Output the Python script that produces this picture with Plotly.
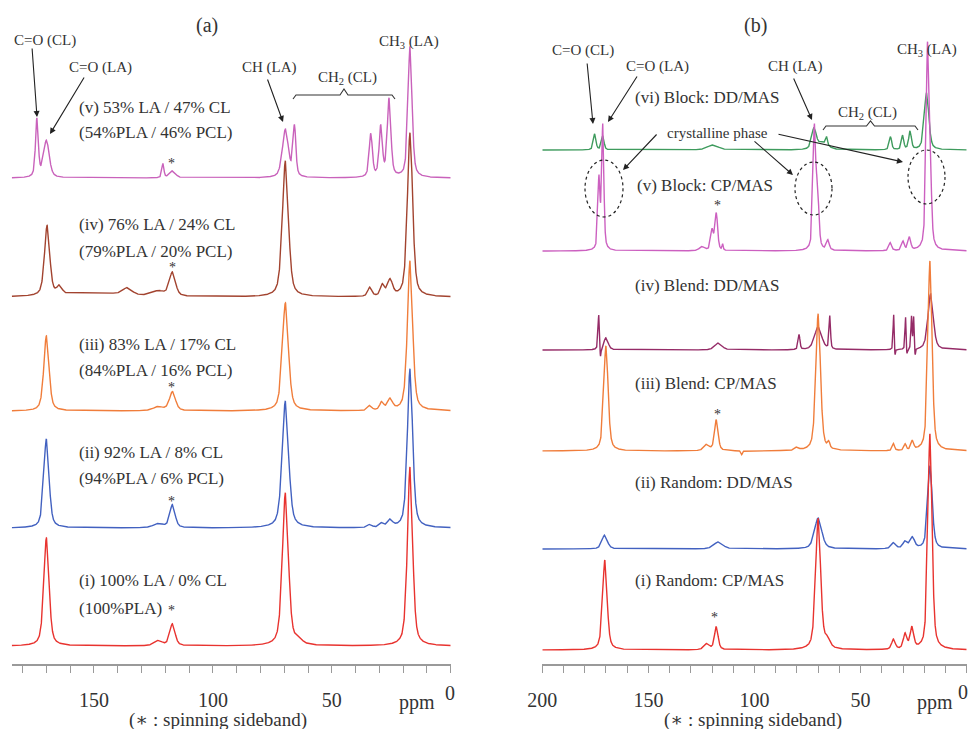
import numpy as np
import plotly.graph_objects as go

W, H = 971, 729

# ---------------- data: peak tables ----------------
# each spectrum: peak centres (ppm), heights (plot units above its baseline), FWHM (ppm)
# Panel (a) : copolymers CP/MAS
a_names = ["(v)", "(iv)", "(iii)", "(ii)", "(i)"]
a_offsets = [486, 367, 253, 136, 18]   # baseline level of each trace (y units)
a_colors = ["#c962bb", "#a2432f", "#f07d3b", "#4261c0", "#e8332f"]
a_centers = [
    [174.0, 170.0, 121.0, 117.0, 69.5, 65.7, 33.6, 29.4, 25.9, 17.1],
    [169.7, 164.5, 150.0, 136.0, 123.0, 117.0, 69.5, 34.0, 28.7, 25.5, 17.1],
    [170.0, 123.0, 117.0, 69.5, 34.0, 29.0, 25.5, 17.1],
    [170.0, 123.0, 117.0, 69.5, 34.0, 29.0, 25.5, 17.1],
    [170.0, 123.0, 117.0, 69.5, 64.0, 17.1],
]
a_heights = [
    [58, 37, 14, 7, 48, 50, 43, 50, 78, 131],
    [70, 8, 4, 7, 5, 24, 136, 9, 11, 16, 164],
    [75, 4, 19, 108, 5, 8, 11, 150],
    [89, 4, 23, 127, 3, 4, 7, 159],
    [108, 5, 22, 153, 4, 179],
]
a_widths = [
    [1.4, 2.8, 1.0, 3.0, 3.0, 1.4, 1.6, 1.6, 1.8, 2.0],
    [2.6, 2.5, 30.0, 4.5, 6.0, 3.0, 3.0, 2.0, 2.0, 2.5, 2.6],
    [2.6, 5.0, 3.0, 3.0, 2.0, 2.0, 2.5, 2.6],
    [2.6, 5.0, 2.6, 3.2, 2.0, 2.0, 2.5, 2.6],
    [2.6, 4.0, 2.6, 3.0, 4.0, 2.6],
]

# Panel (b) : block / blend / random, CP/MAS and DD/MAS
b_names = ["(vi)", "(v)", "(iv)", "(iii)", "(ii)", "(i)"]
b_offsets = [514, 413, 314, 213, 115, 14]
b_colors = ["#3e9b5d", "#cc60c0", "#952b67", "#f07d3b", "#4261c0", "#e8332f"]
b_centers = [
    [175.3, 171.5, 119.6, 72.0, 68.0, 66.0, 35.9, 30.2, 26.7, 18.9],
    [173.3, 171.5, 124.7, 120.0, 118.0, 115.0, 71.8, 70.3, 65.4, 36.0, 30.0, 27.0, 18.5, 17.3],
    [173.4, 172.6, 170.0, 117.0, 79.0, 70.0, 64.5, 34.4, 33.8, 28.8, 28.2, 26.0, 25.0, 24.3, 17.0],
    [170.0, 122.6, 118.0, 106.0, 80.0, 70.0, 65.0, 34.5, 29.0, 25.6, 17.3],
    [170.6, 117.0, 70.0, 34.5, 29.0, 25.6, 17.3],
    [170.5, 122.5, 118.0, 70.0, 65.6, 34.5, 29.0, 25.8, 17.3],
]
b_heights = [
    [16, 14, 5, 20, 7, 8, 13, 14, 18, 57],
    [70, 124, 4, 20, 37, 6, 120, 55, 10, 8, 9, 13, 190, 80],
    [35, -12, 12, 7, 15, 23, 33, 36, -9, 33, -8, 32, 32, -9, 56],
    [105, 6, 31, -4, 3, 137, 6, 7, 6, 9, 190],
    [14, 7, 31, 6, 7, 11, 83],
    [90, 6, 23, 131, 8, 10, 15, 21, 216],
]
b_widths = [
    [1.4, 1.4, 6.0, 2.5, 6.0, 1.0, 1.3, 1.3, 1.5, 2.5],
    [1.2, 1.2, 3.0, 1.5, 1.5, 0.6, 1.5, 1.5, 1.5, 1.5, 1.5, 1.5, 1.6, 1.5],
    [0.8, 0.6, 2.5, 4.0, 1.0, 4.0, 0.8, 0.6, 0.6, 0.6, 0.6, 0.6, 0.6, 0.6, 3.0],
    [2.4, 3.0, 2.0, 0.8, 2.0, 2.6, 1.2, 1.2, 1.2, 1.5, 2.3],
    [3.0, 5.0, 4.0, 2.5, 2.5, 2.5, 2.5],
    [2.5, 3.0, 2.0, 2.8, 3.0, 2.0, 2.0, 2.0, 2.3],
]

a_tickvals = [150, 100, 50]
a_ticktext = ["150", "100", "50"]
b_tickvals = [200, 150, 100, 50]
b_ticktext = ["200", "150", "100", "50"]


def line_shape(x, centers, heights, widths):
    y = np.zeros_like(x)
    for c, h, w in zip(centers, heights, widths):
        d = (x - c) / w
        y += h * (0.5 * np.exp(-4 * np.log(2) * d * d) + 0.5 / (1 + 4 * d * d))
    return y


fig = go.Figure()

xa = np.arange(0, 184.6, 0.04)
for nm, off, col, c, h, w in zip(a_names, a_offsets, a_colors, a_centers, a_heights, a_widths):
    fig.add_trace(go.Scatter(x=xa, y=off + line_shape(xa, c, h, w), mode="lines",
                             line=dict(color=col, width=1.4), name=nm,
                             xaxis="x", yaxis="y", hoverinfo="skip"))

xb = np.arange(0, 200.01, 0.04)
for nm, off, col, c, h, w in zip(b_names, b_offsets, b_colors, b_centers, b_heights, b_widths):
    fig.add_trace(go.Scatter(x=xb, y=off + line_shape(xb, c, h, w), mode="lines",
                             line=dict(color=col, width=1.4), name=nm,
                             xaxis="x2", yaxis="y2", hoverinfo="skip"))

axis_common = dict(showline=True, linecolor="#9a9a9a", linewidth=1.5, ticks="outside",
                   ticklen=7, tickcolor="#9a9a9a", tickwidth=1, showgrid=False, zeroline=False,
                   automargin=False,
                   minor=dict(ticks="outside", ticklen=7, tickcolor="#9a9a9a", tickwidth=1,
                              dtick=10, tick0=0, showgrid=False),
                   tickfont=dict(size=20, color="#333"), ticklabelstandoff=10, fixedrange=True)

fig.update_layout(
    template="none",
    width=W, height=H, margin=dict(l=0, r=0, t=0, b=0, pad=0),
    paper_bgcolor="white", plot_bgcolor="white", showlegend=False,
    font=dict(family="Liberation Serif, DejaVu Serif, serif", color="#333"),
    xaxis=dict(domain=[11.7 / W, 450.7 / W], range=[184.6, 0], anchor="y",
               tickvals=a_tickvals, ticktext=a_ticktext, **axis_common),
    xaxis2=dict(domain=[542.3 / W, 966.7 / W], range=[200, 0], anchor="y2",
                tickvals=b_tickvals, ticktext=b_ticktext, **axis_common),
    yaxis=dict(domain=[65 / H, 1], range=[0, 664], visible=False, anchor="x", automargin=False),
    yaxis2=dict(domain=[65 / H, 1], range=[0, 664], visible=False, anchor="x2", automargin=False),
)


def px(x):
    return x / W


def py(y):
    return 1 - y / H


anns = []


def text(x, y, s, size=17, anchor="center"):
    anns.append(dict(x=px(x), y=py(y), xref="paper", yref="paper", text=s, showarrow=False,
                     xanchor=anchor, yanchor="middle", font=dict(size=size, color="#333")))


def arrow(x0, y0, x1, y1):
    anns.append(dict(x=px(x1), y=py(y1), xref="paper", yref="paper", text="", showarrow=True,
                     ax=x0 - x1, ay=y0 - y1, arrowhead=2, arrowsize=1.1, arrowwidth=1.1,
                     arrowcolor="#222", standoff=0, startstandoff=0))


# panel (a) annotations
text(207, 25, "(a)", 20)
text(45, 40, "C=O (CL)", 15)
text(100, 68, "C=O (LA)", 15)
text(269, 68, "CH (LA)", 15)
text(347, 78, "CH<sub>2</sub> (CL)", 15)
text(409, 42, "CH<sub>3</sub> (LA)", 15)
arrow(32, 47, 37, 117)
arrow(85, 76, 50, 134)
arrow(267, 78, 283, 122)
a_labels = ["(v) 53% LA / 47% CL", "(54%PLA / 46% PCL)",
            "(iv) 76% LA / 24% CL", "(79%PLA / 20% PCL)",
            "(iii) 83% LA / 17% CL", "(84%PLA / 16% PCL)",
            "(ii) 92% LA / 8% CL", "(94%PLA / 6% PCL)",
            "(i) 100% LA / 0% CL", "(100%PLA)"]
a_label_y = [107, 132, 224, 251, 344, 370, 452, 478, 580, 608]
for s, yy in zip(a_labels, a_label_y):
    text(77, yy, s, 17, "left")
for (xx, yy) in [(171, 163), (172, 268), (171, 387), (171, 501), (171, 610)]:
    text(xx, yy, "*", 14)
text(450, 693, "0", 20)
text(417, 702, "ppm", 20)
text(218, 720, "(∗ : spinning sideband)", 19)

# panel (b) annotations
text(755, 25, "(b)", 20)
text(583, 50, "C=O (CL)", 15)
text(657, 67, "C=O (LA)", 15)
text(795, 67, "CH (LA)", 15)
text(867, 113, "CH<sub>2</sub> (CL)", 15)
text(927, 50, "CH<sub>3</sub> (LA)", 15)
arrow(587, 62, 593, 124)
arrow(638, 75, 608, 122)
arrow(793, 77, 812, 120)
text(633, 97, "(vi) Block: DD/MAS", 17, "left")
text(717, 133, "crystalline phase", 15)
arrow(658, 133, 623, 170)
arrow(753, 140, 793, 175)
arrow(777, 134, 903, 162)
text(635, 185, "(v) Block: CP/MAS", 17, "left")
text(633, 285, "(iv) Blend: DD/MAS", 17, "left")
text(633, 383, "(iii) Blend: CP/MAS", 17, "left")
text(633, 482, "(ii) Random: DD/MAS", 17, "left")
text(633, 580, "(i) Random: CP/MAS", 17, "left")
for (xx, yy) in [(717, 205), (717, 414), (714, 617)]:
    text(xx, yy, "*", 14)
text(970, 692, "0", 20, "right")
text(935, 702, "ppm", 20)
text(753, 720, "(∗ : spinning sideband)", 19)

fig.update_layout(annotations=anns)


def brace(x0, x1, yline, yend, ytip):
    xm = (x0 + x1) / 2
    pts = [(x0, yend), (x0 + 3, yline), (xm - 4, yline), (xm, ytip),
           (xm + 4, yline), (x1 - 3, yline), (x1, yend)]
    p = "M " + " L ".join(f"{px(a):.5f},{py(b):.5f}" for a, b in pts)
    return dict(type="path", path=p, xref="paper", yref="paper",
                line=dict(color="#333", width=1.1))


shapes = [brace(293, 395, 95, 99, 89), brace(823, 918, 126, 130, 121)]
for (x0, x1, y0, y1) in [(585, 623, 160, 217), (795, 832, 162, 215), (908, 945, 150, 204)]:
    shapes.append(dict(type="circle", xref="paper", yref="paper", x0=px(x0), x1=px(x1),
                       y0=py(y1), y1=py(y0), line=dict(color="#222", width=1.2, dash="dot")))
fig.update_layout(shapes=shapes)

fig.write_html("out.html")
